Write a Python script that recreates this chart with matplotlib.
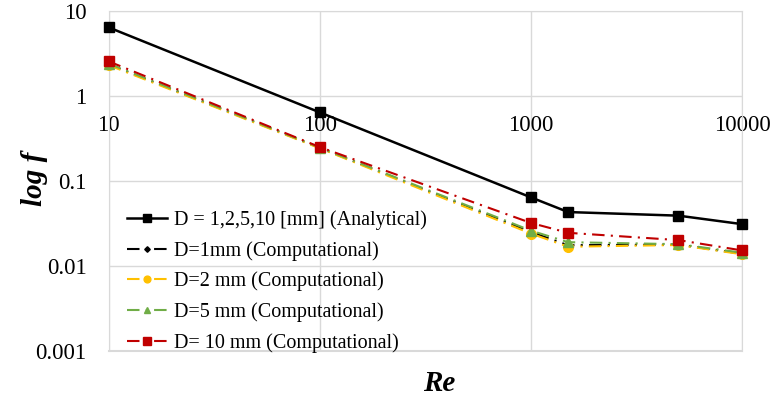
import matplotlib
matplotlib.use('Agg')
import matplotlib.pyplot as plt
from matplotlib.ticker import FixedLocator, FixedFormatter, NullLocator

plt.rcParams['font.family'] = ['Liberation Serif', 'DejaVu Serif']

re_vals = [10, 100, 1000, 1500, 5000, 10000]

# friction factor
f_analytical = [6.4, 0.64, 0.064, 0.043, 0.039, 0.031]
f_d1 = [2.35, 0.245, 0.025, 0.0175, 0.0178, 0.0139]
f_d2 = [2.30, 0.242, 0.024, 0.0168, 0.0176, 0.0137]
f_d5 = [2.40, 0.247, 0.026, 0.019, 0.018, 0.0143]
f_d10 = [2.55, 0.25, 0.032, 0.0245, 0.0201, 0.0152]

labels = ['D = 1,2,5,10 [mm] (Analytical)', 'D=1mm (Computational)',
          'D=2 mm (Computational)', 'D=5 mm (Computational)',
          'D= 10 mm (Computational)']

fig = plt.figure(figsize=(7.77, 4.07), dpi=100)
ax = fig.add_axes([0.140, 0.138, 0.815, 0.835])

dashdot = (0, (6, 3, 1, 3))
kw = dict(clip_on=False, zorder=3)
ax.plot(re_vals, f_analytical, color='black', lw=1.8, marker='s', ms=7.5, label=labels[0], **kw)
ax.plot(re_vals, f_d1, color='black', lw=1.5, ls=dashdot, marker='D', ms=4, label=labels[1], **kw)
ax.plot(re_vals, f_d2, color='#FFC000', lw=1.5, ls=dashdot, marker='o', ms=7, label=labels[2], **kw)
ax.plot(re_vals, f_d5, color='#70AD47', lw=1.5, ls=dashdot, marker='^', ms=7, label=labels[3], **kw)
ax.plot(re_vals, f_d10, color='#C00000', lw=1.5, ls=dashdot, marker='s', ms=7.5, label=labels[4], **kw)

ax.set_xscale('log')
ax.set_yscale('log')
ax.set_xlim(10, 10000)
ax.set_ylim(0.001, 10)

ax.xaxis.set_major_locator(FixedLocator([10, 100, 1000, 10000]))
ax.xaxis.set_major_formatter(FixedFormatter(['10', '100', '1000', '10000']))
ax.xaxis.set_minor_locator(NullLocator())
ax.yaxis.set_major_locator(FixedLocator([0.001, 0.01, 0.1, 1, 10]))
ax.yaxis.set_major_formatter(FixedFormatter(['0.001', '0.01', '0.1', '1', '10']))
ax.yaxis.set_minor_locator(NullLocator())

# x axis crosses at f = 1 like the excel chart
ax.spines['bottom'].set_position(('data', 1))
ax.spines['bottom'].set_visible(False)
for s in ['top', 'right', 'left']:
    ax.spines[s].set_color('#D9D9D9')
    ax.spines[s].set_zorder(1)
ax.tick_params(length=0, labelsize=16.5)
ax.tick_params(axis='y', pad=16)
ax.tick_params(axis='x', pad=14)
ax.grid(True, color='#D9D9D9', lw=1)
ax.set_axisbelow(True)

# frame line at the bottom of the plot area
ax.axhline(0.001, color='#D9D9D9', lw=1.5, clip_on=False, zorder=1)

fig.text(0.045, 0.56, 'log f', rotation=90, fontsize=21, fontweight='bold',
         fontstyle='italic', ha='center', va='center')
fig.text(0.565, 0.058, 'Re', fontsize=21, fontweight='bold',
         fontstyle='italic', ha='center', va='center')

ax.legend(loc='lower left', bbox_to_anchor=(0.0, -0.06), frameon=False,
          fontsize=14.5, handlelength=2.0, handletextpad=0.35, labelspacing=0.55,
          markerscale=0.7)

plt.savefig('out.png', dpi=100)
